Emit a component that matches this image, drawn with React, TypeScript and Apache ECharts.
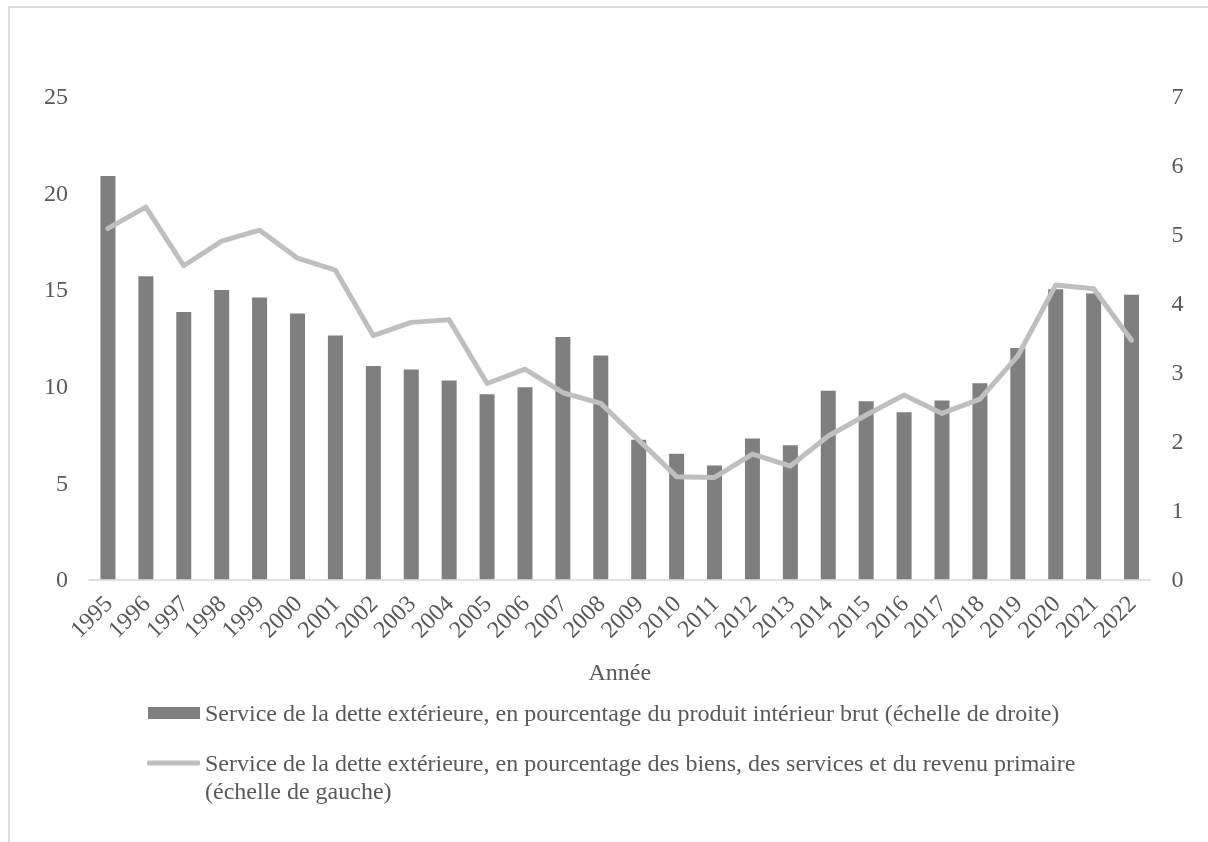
import { useEffect, useRef } from "react";
import * as echarts from "echarts";

// Years on the category axis
const years = [
  "1995", "1996", "1997", "1998", "1999", "2000", "2001", "2002", "2003", "2004",
  "2005", "2006", "2007", "2008", "2009", "2010", "2011", "2012", "2013", "2014",
  "2015", "2016", "2017", "2018", "2019", "2020", "2021", "2022",
];

// External debt service, % of GDP (right scale, bars)
const debtServiceGdp = [
  5.84, 4.39, 3.87, 4.19, 4.08, 3.85, 3.53, 3.09, 3.04, 2.88,
  2.68, 2.78, 3.51, 3.24, 2.02, 1.82, 1.65, 2.04, 1.94, 2.73,
  2.58, 2.42, 2.59, 2.84, 3.35, 4.2, 4.14, 4.12,
];

// External debt service, % of exports of goods, services and primary income (left scale, line)
const debtServiceExports = [
  18.15, 19.25, 16.22, 17.49, 18.06, 16.61, 15.99, 12.6, 13.29, 13.42,
  10.13, 10.87, 9.65, 9.1, 7.2, 5.31, 5.27, 6.48, 5.86, 7.41,
  8.5, 9.53, 8.58, 9.32, 11.55, 15.22, 15.03, 12.37,
];

// Axis scales: [min, max, step]
const leftScale = [0, 25, 5];
const rightScale = [0, 7, 1];

const barName =
  "Service de la dette extérieure, en pourcentage du produit intérieur brut (échelle de droite)";
const lineName =
  "Service de la dette extérieure, en pourcentage des biens, des services et du revenu primaire (échelle de gauche)";
const lineNameFirst =
  "Service de la dette extérieure, en pourcentage des biens, des services et du revenu primaire";
const lineNameSecond = "(échelle de gauche)";

const FONT = '"Liberation Serif", "Times New Roman", Times, serif';
const TEXT = "#595959";
const SIZE = 24;

export default function App() {
  const ref = useRef<HTMLDivElement>(null);

  useEffect(() => {
    if (!ref.current) return;
    const chart = echarts.init(ref.current, undefined, { renderer: "svg" });
    chart.setOption({
      animation: false,
      textStyle: { fontFamily: FONT, color: TEXT },
      grid: { left: 89, right: 57.5, top: 96, bottom: 262.7, containLabel: false },
      legend: [
        {
          data: [barName],
          left: 148,
          top: 699,
          padding: 0,
          selectedMode: false,
          itemWidth: 52,
          itemHeight: 12,
          icon: "rect",
          textStyle: { fontFamily: FONT, fontSize: SIZE, color: TEXT, lineHeight: 28 },
        },
        {
          data: [lineName],
          left: 147,
          top: 721,
          padding: 0,
          selectedMode: false,
          itemWidth: 53,
          itemHeight: 5,
          icon: "roundRect",
          // leading blank line keeps the first text line level with the icon
          formatter: () => "\n" + lineNameFirst + "\n" + lineNameSecond,
          textStyle: { fontFamily: FONT, fontSize: SIZE, color: TEXT, lineHeight: 28 },
        },
      ],
      xAxis: {
        type: "category",
        data: years,
        name: "Année",
        nameLocation: "middle",
        nameGap: 81,
        nameTextStyle: { fontFamily: FONT, fontSize: SIZE, color: TEXT },
        axisLine: { lineStyle: { color: "#d9d9d9", width: 1.5 } },
        axisTick: { show: false },
        axisLabel: {
          interval: 0,
          rotate: 45,
          margin: 20,
          fontFamily: FONT,
          fontSize: SIZE,
          color: TEXT,
        },
      },
      yAxis: [
        {
          type: "value",
          min: leftScale[0],
          max: leftScale[1],
          interval: leftScale[2],
          axisLine: { show: false },
          axisTick: { show: false },
          splitLine: { show: false },
          axisLabel: { margin: 21, fontFamily: FONT, fontSize: SIZE, color: TEXT },
        },
        {
          type: "value",
          position: "right",
          min: rightScale[0],
          max: rightScale[1],
          interval: rightScale[2],
          axisLine: { show: false },
          axisTick: { show: false },
          splitLine: { show: false },
          axisLabel: { margin: 21, fontFamily: FONT, fontSize: SIZE, color: TEXT },
        },
      ],
      series: [
        {
          name: barName,
          type: "bar",
          yAxisIndex: 1,
          data: debtServiceGdp,
          barWidth: 15,
          itemStyle: { color: "#7f7f7f" },
        },
        {
          name: lineName,
          type: "line",
          yAxisIndex: 0,
          data: debtServiceExports,
          symbol: "none",
          itemStyle: { color: "#bfbfbf" },
          lineStyle: { color: "#bfbfbf", width: 5, cap: "round", join: "round" },
        },
      ],
    });
    return () => chart.dispose();
  }, []);

  return (
    <>
      <div
        style={{
          position: "fixed",
          left: 8,
          top: 6,
          width: 1200,
          height: 836,
          borderLeft: "2px solid #dcdcdc",
          borderTop: "2px solid #dcdcdc",
          boxSizing: "border-box",
        }}
      />
      <div
        ref={ref}
        style={{ position: "fixed", left: 0, top: 0, width: 1208, height: 842 }}
      />
    </>
  );
}
